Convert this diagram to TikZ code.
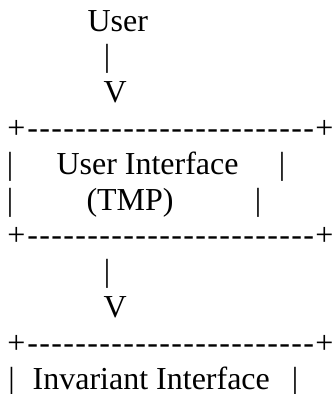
\documentclass[tikz,border=0pt]{standalone}
\usepackage{fontspec}
\setmainfont{Liberation Serif}
% A rule of plus signs and hyphens, as in a plain-text box
\newcommand\dashrow{+\kern2pt\foreach\k in {1,...,24}{-\kern1.35pt}+}
\begin{document}
\begin{tikzpicture}[x=1pt,y=-1pt,
  txt/.style={anchor=base west, inner sep=0pt, outer sep=0pt,
              font=\fontsize{32}{36}\selectfont}]
\useasboundingbox (0,0) rectangle (332,394);
% caller and first arrow
\node[txt] (user)  at (87.5,31.0)  {User};
\node[txt] (bar1)  at (103.8,66.8) {|};
\node[txt] (vee1)  at (103.5,102.6) {V};
% first box
\node[txt] (top1)  at (7.3,138.4)  {\dashrow};
\node[txt] (l1a)   at (6.8,174.2)  {|};
\node[txt] (ui)    at (56.5,174.2) {User Interface};
\node[txt] (r1a)   at (278.8,174.2) {|};
\node[txt] (l1b)   at (6.8,210.0)  {|};
\node[txt] (tmp)   at (86.5,210.0) {(TMP)};
\node[txt] (r1b)   at (254.8,210.0) {|};
\node[txt] (bot1)  at (7.3,245.8)  {\dashrow};
% second arrow
\node[txt] (bar2)  at (103.8,281.6) {|};
\node[txt] (vee2)  at (103.5,317.4) {V};
% second box
\node[txt] (top2)  at (7.3,353.2)  {\dashrow};
\node[txt] (l2)    at (8.5,389.0)  {|};
\node[txt] (ii)    at (32.7,389.0) {Invariant Interface};
\node[txt] (r2)    at (291.8,389.0) {|};
\end{tikzpicture}
\end{document}
